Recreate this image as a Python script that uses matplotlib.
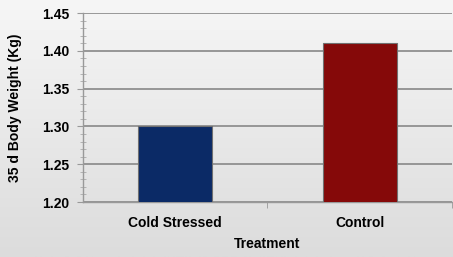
import matplotlib
matplotlib.use("Agg")
import matplotlib.pyplot as plt
import numpy as np
from matplotlib.ticker import MultipleLocator, FixedLocator
from matplotlib.colors import LinearSegmentedColormap

categories = ["Cold Stressed", "Control"]
values = [1.30, 1.41]
colors = ["#0b2a66", "#850909"]
y_ticks = [1.20, 1.25, 1.30, 1.35, 1.40, 1.45]

plt.rcParams['font.family'] = ['Liberation Sans', 'DejaVu Sans']

fig = plt.figure(figsize=(4.53, 2.57), dpi=100)
# background gradient
bg = fig.add_axes([0, 0, 1, 1], zorder=-10)
grad = np.linspace(0, 1, 256).reshape(-1, 1)
cmap = LinearSegmentedColormap.from_list("g", ["#f6f6f6", "#dcdcdc"])
bg.imshow(grad, aspect='auto', cmap=cmap, extent=[0, 1, 0, 1], origin='upper')
bg.set_axis_off()

ax = fig.add_axes([0.183, 0.214, 0.815, 0.735])
ax.set_facecolor('none')
x = np.arange(len(categories))
ax.bar(x, values, width=0.4, color=colors, edgecolor='#707070', linewidth=0.8, zorder=3)
ax.set_ylim(1.20, 1.45)
ax.set_xlim(-0.5, 1.5)
ax.set_yticks(y_ticks)
ax.set_yticklabels([f"{v:.2f}" for v in y_ticks], fontsize=10, fontweight='bold')
ax.yaxis.set_minor_locator(MultipleLocator(0.01))
ax.grid(axis='y', which='major', color='#888888', linewidth=1.2, zorder=1)
ax.set_xticks(x)
ax.set_xticklabels(categories, fontsize=10, fontweight='bold')
ax.tick_params(axis='x', which='major', length=0, pad=10)
ax.xaxis.set_minor_locator(FixedLocator([0.5, 1.5]))
ax.tick_params(axis='x', which='minor', length=4, color='#999999', direction='out')
ax.tick_params(axis='y', which='major', length=4, color='#999999', pad=6)
ax.tick_params(axis='y', which='minor', length=4, color='#aaaaaa', direction='inout')
for s in ['top', 'right']:
    ax.spines[s].set_visible(False)
for s in ['left', 'bottom']:
    ax.spines[s].set_color('#999999')
    ax.spines[s].set_linewidth(1.0)
ax.set_ylabel("35 d Body Weight (Kg)", fontsize=10, fontweight='bold', labelpad=14)
ax.set_xlabel("Treatment", fontsize=10, fontweight='bold', labelpad=5)
fig.savefig("out.png", dpi=100)
